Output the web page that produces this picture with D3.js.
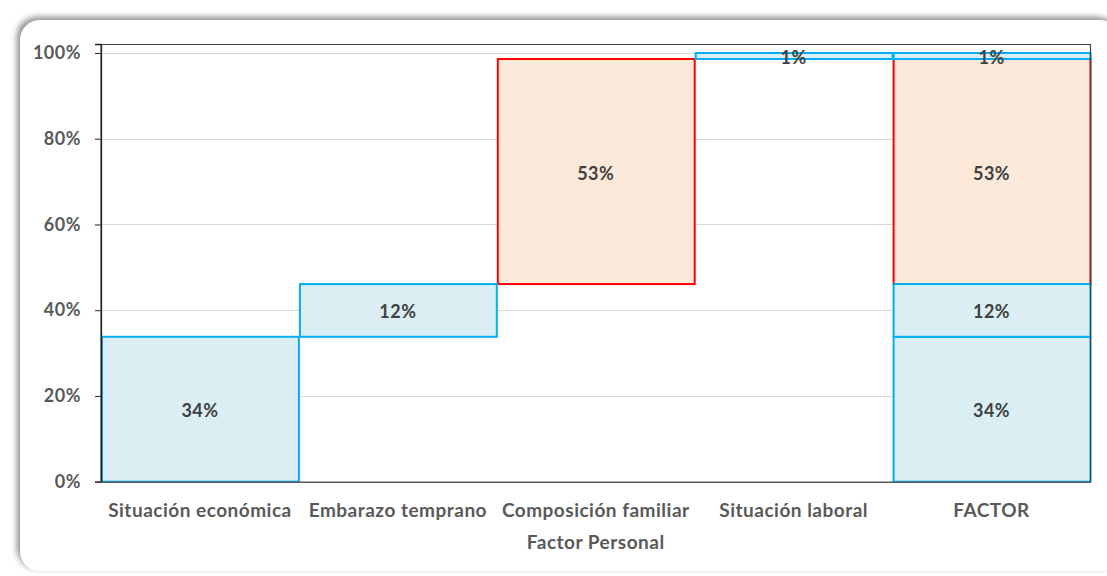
<!DOCTYPE html>
<html><head><meta charset="utf-8">
<script src="https://cdn.jsdelivr.net/npm/d3@7"></script>
<style>
html,body{margin:0;padding:0;background:#fff;}
svg{display:block;}
text{font-family:Lato,"Open Sans",sans-serif;font-weight:bold;}
</style></head>
<body><svg id="c" width="1107" height="576"></svg>
<script>
const categories = ["Situación económica","Embarazo temprano","Composición familiar","Situación laboral","FACTOR"];
const values = [0.338, 0.123, 0.525, 0.014];
const groups = ["azul","azul","rojo","azul"];
const yTicks = [0, 0.2, 0.4, 0.6, 0.8, 1.0];
const axisTitle = "Factor Personal";

const svg = d3.select("#c");
const defs = svg.append("defs");
const f = defs.append("filter").attr("id","sh").attr("x","-5%").attr("y","-5%").attr("width","110%").attr("height","110%");
f.append("feDropShadow").attr("dx",-3).attr("dy",-3).attr("stdDeviation",3).attr("flood-color","#7f7f7f").attr("flood-opacity",0.9);

svg.append("rect").attr("x",20).attr("y",20).attr("width",1100).attr("height",551)
  .attr("rx",20).attr("fill","#fff").attr("filter","url(#sh)");

const m = {l:101, r:1090.5, t:44, b:481.7};
const x = d3.scaleBand().domain(categories).range([m.l, m.r]).padding(0);
const y = d3.scaleLinear().domain([0, 1.021]).range([m.b, m.t]);

const fills = {azul:"#DAEEF3", rojo:"#FDE9D9"};
const strokes = {azul:"#00B0F0", rojo:"#FF0000"};

// gridlines
svg.append("g").selectAll("line").data(yTicks.slice(1)).join("line")
  .attr("x1",m.l).attr("x2",m.r).attr("y1",d=>Math.round(y(d))+0.5).attr("y2",d=>Math.round(y(d))+0.5)
  .attr("stroke","#D9D9D9").attr("stroke-width",1);

// segments
const segs = [];
let cum = 0;
values.forEach((v,i)=>{ segs.push({cat:categories[i], s:cum, e:cum+v, v, g:groups[i]}); cum += v; });
let cum2 = 0;
values.forEach((v,i)=>{ segs.push({cat:categories[categories.length-1], s:cum2, e:cum2+v, v, g:groups[i]}); cum2 += v; });

const segG = svg.append("g");
const order = segs.slice().sort((a,b)=> (a.g==="rojo"?0:1)-(b.g==="rojo"?0:1));
segG.selectAll("rect").data(order).join("rect")
  .attr("x",d=>x(d.cat)+1).attr("width",x.bandwidth()-1)
  .attr("y",d=>y(d.e)).attr("height",d=>y(d.s)-y(d.e))
  .attr("fill",d=>fills[d.g]).attr("stroke",d=>strokes[d.g]).attr("stroke-width",2);

svg.append("g").selectAll("text").data(segs).join("text")
  .attr("x",d=>x(d.cat)+x.bandwidth()/2).attr("y",d=>(y(d.s)+y(d.e))/2+1)
  .attr("text-anchor","middle").attr("dominant-baseline","central")
  .attr("font-size",18).attr("letter-spacing",0.5).attr("fill","#404040")
  .text(d=>d3.format(".0%")(d.v));

// plot border
svg.append("path").attr("d",`M${m.l},${m.b}V${m.t+0.5}H${m.r}V${m.b}`)
  .attr("fill","none").attr("stroke","#404040").attr("stroke-width",1.2);

// axes
const yAxis = d3.axisLeft(y).tickValues(yTicks).tickFormat(d3.format(".0%")).tickSize(6).tickPadding(14);
const gy = svg.append("g").attr("transform",`translate(${m.l},0)`).call(yAxis);
gy.select(".domain").attr("stroke","#262626").attr("stroke-width",1.3);
gy.selectAll(".tick line").attr("stroke","#262626");
gy.selectAll("text").attr("font-size",18).attr("letter-spacing",0.5).attr("fill","#595959").attr("font-family","Lato,sans-serif").attr("font-weight","bold");

const xAxis = d3.axisBottom(x).tickSize(0).tickPadding(22);
const gx = svg.append("g").attr("transform",`translate(0,${m.b})`).call(xAxis);
gx.select(".domain").attr("stroke","#595959").attr("stroke-width",1.5);
gx.selectAll("text").attr("font-size",19).attr("letter-spacing",0.5).attr("fill","#595959").attr("font-family","Lato,sans-serif").attr("font-weight","bold");

svg.append("text").attr("x",(m.l+m.r)/2).attr("y",549).attr("text-anchor","middle")
  .attr("font-size",19).attr("letter-spacing",0.5).attr("fill","#595959").text(axisTitle);
</script></body></html>
